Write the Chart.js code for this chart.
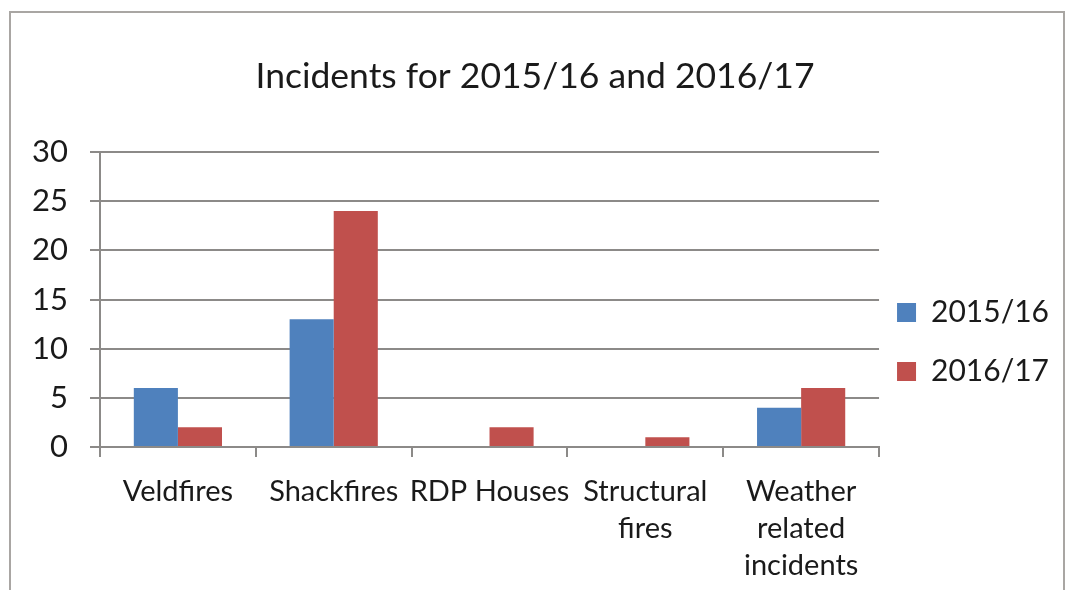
<!DOCTYPE html>
<html>
<head>
<meta charset="utf-8">
<script src="https://cdn.jsdelivr.net/npm/chart.js@4.4.0/dist/chart.umd.min.js"></script>
<style>
    html, body { margin: 0; padding: 0; background: #fff; overflow: hidden; }
    #frame { position: absolute; left: 9px; top: 11px; width: 1052px; height: 640px; border: 2px solid #a9a6a3; border-bottom: none; }
    #wrap { position: absolute; left: 0; top: 0; width: 1100px; height: 590px; }
</style>
</head>
<body>
<div id="frame"></div>
<div id="wrap"><canvas id="barChart"></canvas></div>
<script>
    // categorias e valores
    var categories = ["Veldfires", "Shackfires", "RDP Houses", ["Structural", "fires"], ["Weather", "related", "incidents"]];
    var incidents1516 = [6, 13, 0, 0, 4];
    var incidents1617 = [2, 24, 2, 1, 6];
    var yTicks = [0, 5, 10, 15, 20, 25, 30];

    var fontFamily = "Lato, 'Open Sans', sans-serif";
    var gridColor = "#8c8a88";

    // puxa a legenda um pouco para a esquerda, mais perto do grafico
    var legendShift = {
        id: "legendShift",
        afterLayout: function (chart) {
            chart.legend.left -= 11;
            chart.legend.right -= 11;
        }
    };

    var barData = {
        labels: categories,
        datasets: [
            {
                label: "2015/16",
                backgroundColor: "#4f81bd",
                data: incidents1516
            },
            {
                label: "2016/17",
                backgroundColor: "#c0504d",
                data: incidents1617
            }
        ]
    };

    var barOptions = {
        responsive: true,
        maintainAspectRatio: false,
        animation: false,
        layout: { padding: { left: 0, right: 30, top: 0, bottom: 0 } },
        datasets: { bar: { categoryPercentage: 0.566, barPercentage: 1 } },
        plugins: {
            title: {
                display: true,
                text: "Incidents for 2015/16 and 2016/17",
                color: "#1a1a1a",
                font: { family: fontFamily, size: 35.5, weight: "normal" },
                padding: { top: 55, bottom: 54.5 }
            },
            legend: {
                position: "right",
                title: { display: true, text: "", font: { size: 10, lineHeight: 1 }, padding: { top: 84, bottom: 0 } },
                labels: {
                    boxWidth: 19,
                    boxHeight: 19,
                    color: "#1a1a1a",
                    font: { family: fontFamily, size: 30 },
                    padding: 29
                }
            },
            tooltip: { enabled: false }
        },
        scales: {
            x: {
                grid: { offset: true, drawOnChartArea: false, drawTicks: true, tickLength: 10, color: gridColor, lineWidth: 2 },
                border: { color: gridColor, width: 2 },
                ticks: { color: "#1a1a1a", font: { family: fontFamily, size: 29, lineHeight: 1.28 }, padding: 16, maxRotation: 0, autoSkip: false },
                afterFit: function (scale) { scale.height = 143; }
            },
            y: {
                min: 0,
                max: 30,
                afterBuildTicks: function (scale) {
                    scale.ticks = yTicks.map(function (v) { return { value: v }; });
                },
                grid: { color: gridColor, lineWidth: 2, tickLength: 10 },
                border: { color: gridColor, width: 2 },
                ticks: { color: "#1a1a1a", font: { family: fontFamily, size: 31 }, padding: 22 },
                afterFit: function (scale) { scale.width = 100; }
            }
        }
    };

    var ctx1 = document.getElementById("barChart").getContext("2d");
    new Chart(ctx1, { type: "bar", data: barData, options: barOptions, plugins: [legendShift] });
</script>
</body>
</html>
